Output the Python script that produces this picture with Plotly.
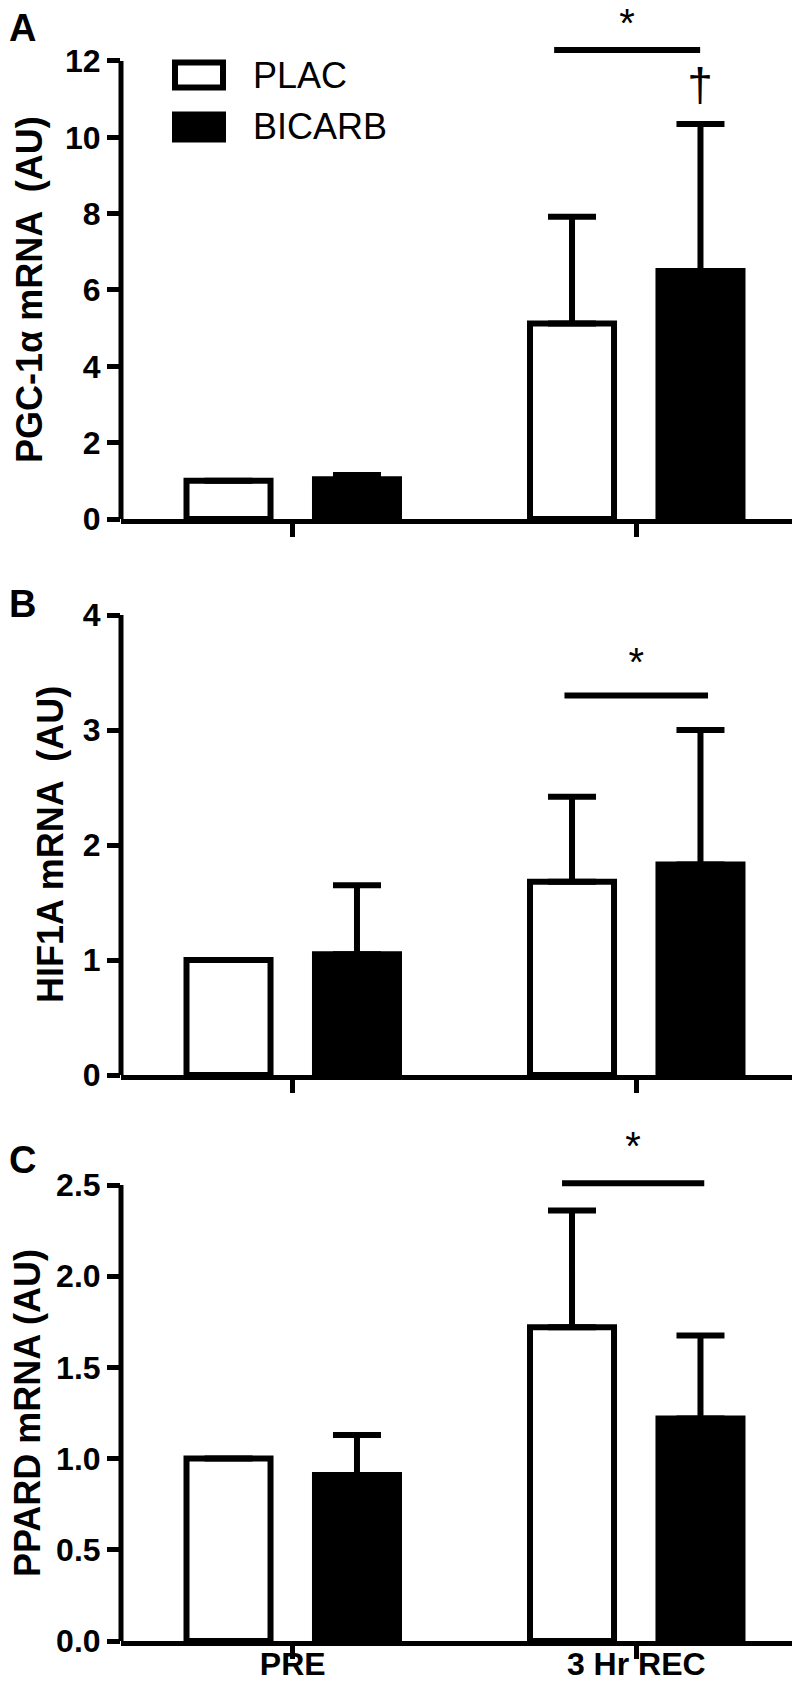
import plotly.graph_objects as go
from plotly.subplots import make_subplots

# ---------------- data ----------------
categories = ["PRE", "3 Hr REC"]
series_names = ["PLAC", "BICARB"]

pgc_plac = [1.00, 5.12]
pgc_plac_sd = [0.0, 2.80]
pgc_bicarb = [1.04, 6.50]
pgc_bicarb_sd = [0.11, 3.85]

hif_plac = [1.00, 1.68]
hif_plac_sd = [0.0, 0.74]
hif_bicarb = [1.05, 1.83]
hif_bicarb_sd = [0.60, 1.17]

ppard_plac = [1.00, 1.72]
ppard_plac_sd = [0.0, 0.64]
ppard_bicarb = [0.91, 1.22]
ppard_bicarb_sd = [0.22, 0.455]

y_titles = ["PGC-1α mRNA  (AU)", "HIF1A mRNA  (AU)", "PPARD mRNA (AU)"]
panel_letters = ["A", "B", "C"]
y_tick_values = [[0, 2, 4, 6, 8, 10, 12], [0, 1, 2, 3, 4], [0.0, 0.5, 1.0, 1.5, 2.0, 2.5]]
y_tick_labels = [["0", "2", "4", "6", "8", "10", "12"], ["0", "1", "2", "3", "4"],
                 ["0.0", "0.5", "1.0", "1.5", "2.0", "2.5"]]

# significance bars (category-index units) and marker heights (data units)
sig_x0 = [0.761, 0.791, 0.784]
sig_x1 = [1.186, 1.209, 1.198]
sig_y = [12.29, 3.30, 2.51]
star_y = [12.90, 3.56, 2.69]
dagger_x = 1.186
dagger_y = 11.25

# ---------------- layout geometry ----------------
W, H = 800, 1682
x_domain = [113 / W, 1.0]
y_domains = [[1 - 511 / H, 1.0], [1 - 1067 / H, 1 - 584 / H], [1 - 1633 / H, 1 - 1122.3 / H]]
y_range_top = [13.388, 4.2, 2.8]
title_x_px = [22, 42, 19]
letter_y_px = [20, 596, 1152]

FONT = "Liberation Sans, Arial, sans-serif"

cat_pos = list(range(len(categories)))

panels = [
    (pgc_plac, pgc_plac_sd, pgc_bicarb, pgc_bicarb_sd),
    (hif_plac, hif_plac_sd, hif_bicarb, hif_bicarb_sd),
    (ppard_plac, ppard_plac_sd, ppard_bicarb, ppard_bicarb_sd),
]

fig = make_subplots(rows=3, cols=1)

for i, (pl, pl_sd, bi, bi_sd) in enumerate(panels, start=1):
    for name, vals, sd, fill in [("PLAC", pl, pl_sd, "white"), ("BICARB", bi, bi_sd, "black")]:
        fig.add_trace(go.Bar(
            x=cat_pos, y=vals, name=name, showlegend=False,
            marker=dict(color=fill, line=dict(color="black", width=6)),
            error_y=dict(type="data", symmetric=False, array=sd, arrayminus=[0] * len(sd),
                         color="black", thickness=6, width=24),
        ), row=i, col=1)

for i in range(3):
    xa = "xaxis" if i == 0 else f"xaxis{i+1}"
    ya = "yaxis" if i == 0 else f"yaxis{i+1}"
    xref = "x" if i == 0 else f"x{i+1}"
    yref = "y" if i == 0 else f"y{i+1}"
    fig.layout[xa].update(
        domain=x_domain, type="linear", range=[-0.5, 1.5],
        tickmode="array", tickvals=cat_pos, ticktext=categories,
        showline=True, linewidth=5, linecolor="black",
        ticks="outside", ticklen=13, tickwidth=4.5, tickcolor="black",
        showgrid=False, zeroline=False, automargin=False,
        showticklabels=(i == 2), ticklabelstandoff=-22,
        tickfont=dict(family=FONT, size=32, color="black", weight="bold"),
    )
    fig.layout[ya].update(
        domain=y_domains[i], range=[0, y_range_top[i]],
        tickmode="array", tickvals=y_tick_values[i], ticktext=y_tick_labels[i],
        ticks="outside", ticklen=13, tickwidth=4.5, tickcolor="black",
        showline=False, showgrid=False, zeroline=False, automargin=False,
        tickfont=dict(family=FONT, size=32, color="black", weight="bold"),
    )
    # y axis line only up to the last tick
    fig.add_shape(type="line", xref=f"{xref} domain", yref=yref,
                  x0=0, x1=0, y0=0, y1=y_tick_values[i][-1],
                  line=dict(color="black", width=5))
    # significance bar
    fig.add_shape(type="line", xref=xref, yref=yref,
                  x0=sig_x0[i], x1=sig_x1[i], y0=sig_y[i], y1=sig_y[i],
                  line=dict(color="black", width=6))
    # star above the bar
    fig.add_trace(go.Scatter(
        x=[(sig_x0[i] + sig_x1[i]) / 2], y=[star_y[i]], mode="text", text=["*"],
        textposition="middle center", cliponaxis=False, showlegend=False, hoverinfo="skip",
        textfont=dict(family=FONT, size=40, color="black"),
    ), row=i + 1, col=1)
    # y axis title
    yc = y_domains[i][0] + (y_domains[i][1] - y_domains[i][0]) * y_tick_values[i][-1] / y_range_top[i] / 2
    fig.add_annotation(xref="paper", yref="paper", x=title_x_px[i] / W, y=yc,
                       text=y_titles[i], textangle=-90, showarrow=False,
                       xanchor="center", yanchor="middle",
                       font=dict(family=FONT, size=36, color="black", weight="bold"))
    # panel letter
    fig.add_annotation(xref="paper", yref="paper", x=0.0, y=1 - letter_y_px[i] / H,
                       text=panel_letters[i], showarrow=False, xanchor="left", yanchor="middle",
                       borderpad=0,
                       font=dict(family=FONT, size=38, color="black", weight="bold"))

# dagger in panel A
fig.add_trace(go.Scatter(
    x=[dagger_x], y=[dagger_y], mode="text", text=["†"], textposition="middle center",
    cliponaxis=False, showlegend=False, hoverinfo="skip",
    textfont=dict(family=FONT, size=46, color="black"),
), row=1, col=1)

# manual legend (panel A)
legend_rows_px = [67, 119]
legend_fills = ["white", "black"]
for name, yc_px, fill in zip(series_names, legend_rows_px, legend_fills):
    fig.add_shape(type="rect", xref="paper", yref="paper",
                  x0=167 / W, x1=215 / W, y0=1 - (yc_px + 12.5) / H, y1=1 - (yc_px - 12.5) / H,
                  fillcolor=fill, line=dict(color="black", width=6))
    fig.add_annotation(xref="paper", yref="paper", x=243 / W, y=1 - yc_px / H,
                       text=name, showarrow=False, xanchor="left", yanchor="middle",
                       font=dict(family=FONT, size=36, color="black"))

fig.update_layout(
    template="none",
    width=W, height=H,
    margin=dict(l=0, r=0, t=0, b=0),
    barmode="group", bargap=0.252, bargroupgap=0.346,
    showlegend=False,
    paper_bgcolor="white", plot_bgcolor="white",
    font=dict(family=FONT, color="black"),
)

fig.write_html("out.html")
